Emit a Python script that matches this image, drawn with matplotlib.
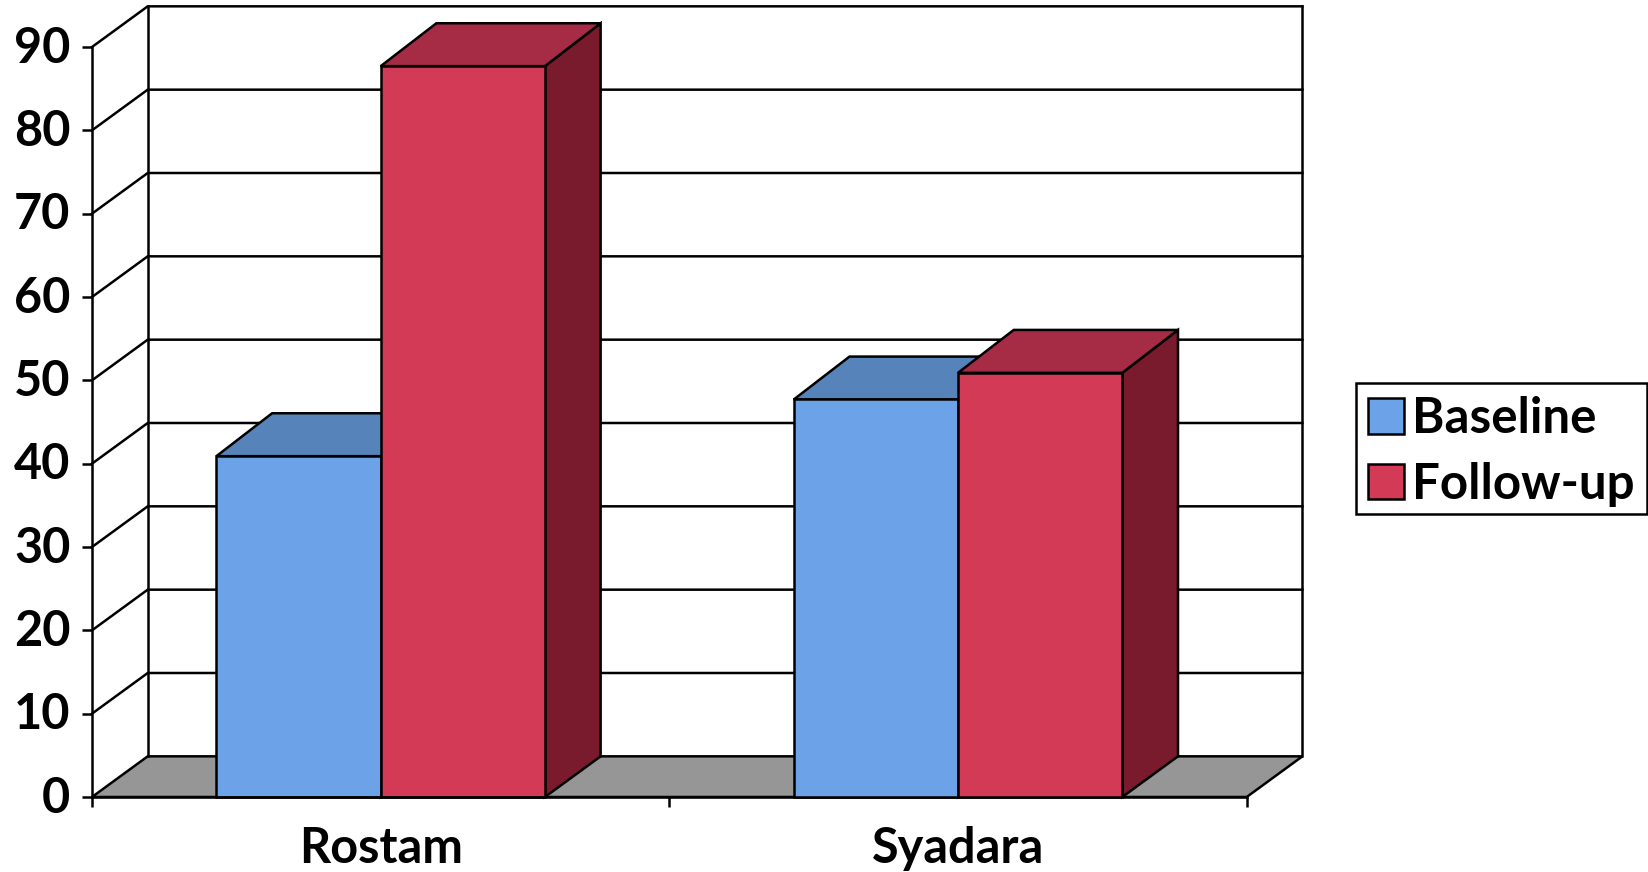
import matplotlib
matplotlib.use("Agg")
import matplotlib.pyplot as plt
from matplotlib.patches import Polygon, Patch, Rectangle
from matplotlib.transforms import ScaledTranslation

categories = ['Rostam', 'Syadara']
baseline = [40.9, 47.7]
followup = [87.7, 50.9]
yticks = [0, 10, 20, 30, 40, 50, 60, 70, 80, 90]

plt.rcParams['font.family'] = ['Lato', 'DejaVu Sans']
plt.rcParams['font.weight'] = 'bold'

BLUE = '#6CA3E8'
BLUE_TOP = '#5683BA'
RED = '#D23A56'
RED_TOP = '#A62B44'
RED_SIDE = '#791B2D'
FLOOR = '#969696'
LW = 1.8

# depth of the fake 3d box, in data units
dx = 0.0965
dy = 4.88
top_dy = 5.15
bar_w = 0.2845


def poly(ax, pts, color, z):
    ax.add_patch(Polygon(pts, closed=True, facecolor=color, edgecolor='black',
                         linewidth=LW, joinstyle='miter', clip_on=False, zorder=z))


def bar3d(ax, x0, value, front, top, side, z):
    x1 = x0 + bar_w
    poly(ax, [(x1, 0), (x1 + dx, dy), (x1 + dx, value + top_dy), (x1, value)], side, z)
    poly(ax, [(x0, value), (x0 + dx, value + top_dy), (x1 + dx, value + top_dy), (x1, value)], top, z)
    poly(ax, [(x0, 0), (x1, 0), (x1, value), (x0, value)], front, z)


fig = plt.figure(figsize=(16.48, 8.72), dpi=100)
ax = fig.add_axes([92.0 / 1648, 75 / 872, 1154.7 / 1648, 750 / 872])
ax.set_xlim(0, 2)
ax.set_ylim(0, 90)
ax.patch.set_alpha(0)

# floor and back wall
poly(ax, [(0, 0), (dx, dy), (2 + dx, dy), (2, 0)], FLOOR, 1)
for v in yticks[1:]:
    ax.plot([0, dx, 2 + dx], [v, v + dy, v + dy], color='black', lw=LW,
            clip_on=False, zorder=1, solid_capstyle='projecting')
ax.plot([dx, dx], [dy, 90 + dy], color='black', lw=LW, clip_on=False, zorder=1)
ax.plot([2 + dx, 2 + dx], [dy, 90 + dy], color='black', lw=LW, clip_on=False, zorder=1)

for i in range(len(categories)):
    bar3d(ax, i + 0.5 - bar_w, baseline[i], BLUE, BLUE_TOP, BLUE_TOP, 2 + i)
    bar3d(ax, i + 0.5, followup[i], RED, RED_TOP, RED_SIDE, 2.5 + i)

for s in ['top', 'right']:
    ax.spines[s].set_visible(False)
for s in ['left', 'bottom']:
    ax.spines[s].set_linewidth(LW)

ax.set_yticks(yticks)
ax.set_yticklabels([str(v) for v in yticks], fontsize=35, fontweight='bold')
ax.tick_params(axis='y', length=7.5, width=LW, pad=8)
# the numbers sit a little above their ticks
for lab in ax.get_yticklabels():
    lab.set_transform(lab.get_transform() + ScaledTranslation(0, 2 / 72, fig.dpi_scale_trans))
ax.set_xticks([0, 1, 2])
ax.set_xticklabels([])
ax.tick_params(axis='x', which='major', length=7.5, width=LW)
ax.set_xticks([0.5, 1.5], minor=True)
ax.set_xticklabels(categories, minor=True, fontsize=35, fontweight='bold')
ax.tick_params(axis='x', which='minor', length=0, pad=21)

# legend box drawn apart, it is tighter than the legend padding allows
fig.add_artist(Rectangle((1356 / 1648, (872 - 514) / 872), 291 / 1648, 131 / 872,
                         transform=fig.transFigure, facecolor='white',
                         edgecolor='black', linewidth=LW))
handles = [Patch(facecolor=BLUE, edgecolor='black', linewidth=LW),
           Patch(facecolor=RED, edgecolor='black', linewidth=LW)]
fig.legend(handles, ['Baseline', 'Follow-up'], loc='center right',
           bbox_to_anchor=(1.0, (872 - 451.5) / 872), frameon=False,
           handlelength=0.725, handleheight=0.725,
           handletextpad=0.16, labelspacing=0.42, borderpad=0.28, borderaxespad=0,
           prop={'weight': 'bold', 'size': 35.5})

fig.savefig('out.png', dpi=100)
